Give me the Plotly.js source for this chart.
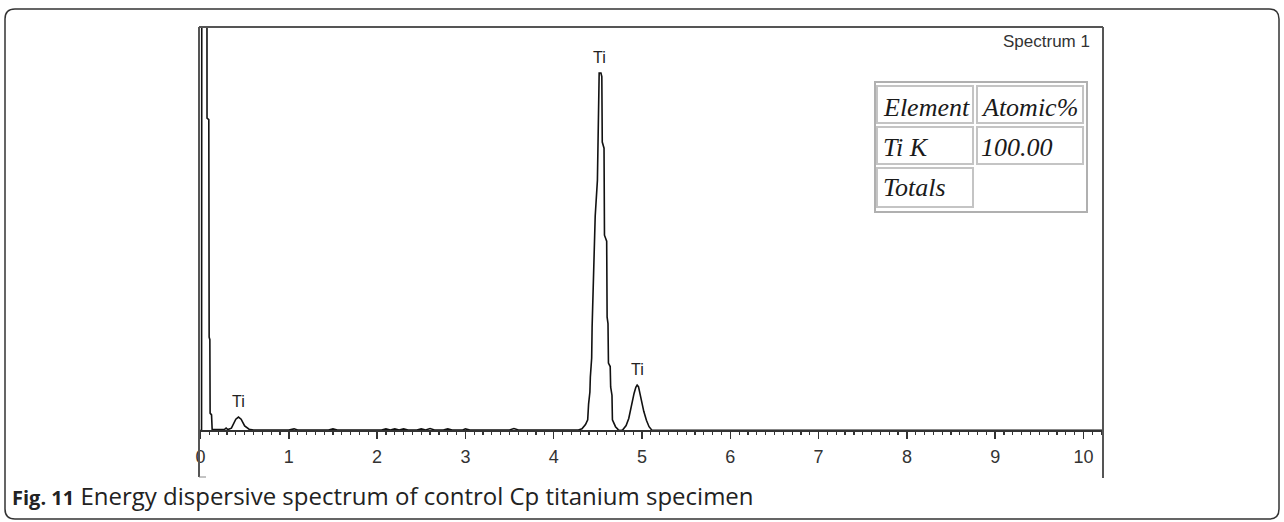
<!DOCTYPE html>
<html>
<head>
<meta charset="utf-8">
<script src="https://cdn.plot.ly/plotly-3.0.1.min.js"></script>
<style>
html,body{margin:0;padding:0;background:#fff;}
#chart{width:1284px;height:522px;}
</style>
</head>
<body>
<div id="chart"></div>
<script>
// Spectrum vertices (energy in keV, counts)
const energyKeV = [
  0.000, 0.012, 0.017, 0.070, 0.074, 0.094, 0.098, 0.106, 0.109, 0.125, 0.132,
  0.20, 0.27, 0.29, 0.31, 0.35, 0.38, 0.40, 0.43, 0.46, 0.50, 0.55, 0.60,
  1.00, 1.06, 1.10, 1.45, 1.50, 1.55, 2.05, 2.10, 2.15, 2.20, 2.25, 2.30, 2.35,
  2.45, 2.50, 2.55, 2.60, 2.65, 2.75, 2.80, 2.85, 2.97, 3.00, 3.05, 3.50, 3.55, 3.60,
  4.28, 4.32, 4.36, 4.385, 4.395, 4.41, 4.415, 4.43, 4.435, 4.445, 4.45, 4.465,
  4.47, 4.495, 4.50, 4.515, 4.535, 4.545, 4.550, 4.570, 4.575, 4.600, 4.605, 4.615,
  4.620, 4.640, 4.645, 4.660, 4.665, 4.700, 4.730, 4.750, 4.780,
  4.820, 4.850, 4.870, 4.890, 4.910, 4.930, 4.945, 4.960, 4.980, 5.000, 5.020,
  5.050, 5.080, 5.110, 5.200, 10.22
];
const counts = [
  3, 3, 2500, 2500, 874, 870, 262, 255, 50, 45, 4,
  3, 4, 8, 4, 8, 22, 33, 39, 33, 14, 5, 3,
  3, 6, 3, 3, 6, 3, 3, 6, 3, 6, 3, 6, 3,
  3, 6, 3, 7, 3, 3, 6, 3, 3, 6, 3, 3, 7, 3,
  3, 6, 18, 31, 75, 109, 150, 204, 290, 380, 470, 581,
  600, 700, 818, 1000, 1000, 990, 807, 790, 547, 530, 318, 300,
  190, 180, 123, 100, 31, 12, 4, 1, 3,
  15, 35, 59, 85, 105, 122, 128, 124, 100, 72, 55,
  30, 12, 3, 2, 2
];

// Peak labels
const peakLabels = ['Ti', 'Ti', 'Ti'];
const peakEnergy = [0.43, 4.52, 4.945];
const peakCounts = [39, 1000, 128];

// X tick labels
const tickValues = [0,1,2,3,4,5,6,7,8,9,10];
const tickLabels = ['0','1','2','3','4','5','6','7','8','9','10'];

// Quantification table
const tableHeader = ['Element', 'Atomic%'];
const tableRows = [['Ti K', '100.00'], ['Totals', '']];

const captionLabel = 'Fig. 11';
const captionText = 'Energy dispersive spectrum of control Cp titanium specimen';
const spectrumName = 'Spectrum 1';

// ---- geometry helpers (pixel -> paper) ----
const L = 200, R = 1103, T = 27, B = 478;
const W = R - L, H = B - T;
const px = x => (x - L) / W;
const py = y => (B - y) / H;

const trace = {
  x: energyKeV, y: counts, type: 'scatter', mode: 'lines',
  line: {color: '#111', width: 1.6},
  hoverinfo: 'skip', showlegend: false, cliponaxis: true
};

const annotations = [];
peakLabels.forEach((t, i) => annotations.push({
  x: peakEnergy[i], y: peakCounts[i], xref: 'x', yref: 'y',
  text: t, showarrow: false, yanchor: 'middle', yshift: 16,
  font: {family: 'Liberation Sans, Arial, sans-serif', size: 16, color: '#222'}
}));
annotations.push({
  x: px(1092), y: py(42), xref: 'paper', yref: 'paper', xanchor: 'right', yanchor: 'middle',
  text: spectrumName, showarrow: false,
  font: {family: 'Liberation Sans, Arial, sans-serif', size: 17, color: '#333'}
});
annotations.push({
  x: px(11), y: py(496), xref: 'paper', yref: 'paper', xanchor: 'left', yanchor: 'middle',
  text: '<span style="font-size:20px"><b>' + captionLabel + '</b></span> ' + captionText,
  showarrow: false, borderpad: 0,
  font: {family: 'Open Sans, sans-serif', size: 24, color: '#222'}
});

// Table text
const colX = [882, 980];
const rowY = [107, 147, 188];
const tableCells = [tableHeader].concat(tableRows);
tableCells.forEach((row, r) => row.forEach((txt, c) => {
  if (!txt) return;
  annotations.push({
    x: px(colX[c]), y: py(rowY[r]), xref: 'paper', yref: 'paper',
    xanchor: 'left', yanchor: 'middle', showarrow: false, borderpad: 0,
    text: '<i>' + txt + '</i>',
    font: {family: 'Liberation Serif, Times New Roman, serif', size: 26, color: '#1a1a1a'}
  });
}));

const shapes = [];
// Outer rounded figure border
(function(){
  const x0 = px(5), x1 = px(1279), y0 = py(9), y1 = py(519);
  const rx = 10 / W, ry = 10 / H;
  const d = `M ${x0+rx},${y0} L ${x1-rx},${y0} Q ${x1},${y0} ${x1},${y0-ry} ` +
            `L ${x1},${y1+ry} Q ${x1},${y1} ${x1-rx},${y1} L ${x0+rx},${y1} ` +
            `Q ${x0},${y1} ${x0},${y1+ry} L ${x0},${y0-ry} Q ${x0},${y0} ${x0+rx},${y0} Z`;
  shapes.push({type: 'path', path: d, xref: 'paper', yref: 'paper',
    line: {color: '#333', width: 1.5}, fillcolor: 'rgba(0,0,0,0)', layer: 'below'});
})();
// Plot frame (left, top, right)
const frameLine = {color: '#555', width: 2};
shapes.push({type: 'line', xref: 'paper', yref: 'paper', x0: px(199), x1: px(199), y0: py(477), y1: 1, line: frameLine});
shapes.push({type: 'line', xref: 'paper', yref: 'paper', x0: px(199), x1: 1, y0: 1, y1: 1, line: frameLine});
shapes.push({type: 'line', xref: 'paper', yref: 'paper', x0: 1, x1: 1, y0: 0, y1: 1, line: frameLine});
shapes.push({type: 'line', xref: 'paper', yref: 'paper', x0: px(199), x1: px(206), y0: py(477), y1: py(477), line: {color: '#888', width: 1}});
// Table borders
const cellLine = {color: '#c4c4c4', width: 2};
shapes.push({type: 'rect', xref: 'paper', yref: 'paper', x0: px(875), x1: px(1087), y0: py(82), y1: py(212), line: {color: '#b0b0b0', width: 2}});
const cells = [
  [877, 973, 86, 123], [977, 1083, 86, 123],
  [877, 973, 127, 164], [977, 1083, 127, 164],
  [877, 973, 168, 207]
];
cells.forEach(c => shapes.push({type: 'rect', xref: 'paper', yref: 'paper',
  x0: px(c[0]), x1: px(c[1]), y0: py(c[2]), y1: py(c[3]), line: cellLine}));

const layout = {
  width: 1284, height: 522,
  margin: {l: L, r: 1284 - R, t: T, b: 522 - B, pad: 0},
  paper_bgcolor: '#fff', plot_bgcolor: '#fff',
  showlegend: false,
  xaxis: {
    range: [(L - 200.5) / 88.3, (R - 200.5) / 88.3],
    anchor: 'free', position: (B - 431) / H,
    showline: true, linecolor: '#333', linewidth: 2,
    showgrid: false, zeroline: false,
    ticks: 'outside', ticklen: 7, tickwidth: 1.5, tickcolor: '#333',
    tickmode: 'array', tickvals: tickValues, ticktext: tickLabels,
    tickfont: {family: 'Liberation Sans, Arial, sans-serif', size: 18, color: '#333'},
    ticklabelstandoff: 2,
    minor: {ticks: 'outside', ticklen: 3, tickwidth: 1.2, tickcolor: '#333', dtick: 0.1, tick0: 0, showgrid: false},
    fixedrange: true
  },
  yaxis: {
    range: [-(B - 431) / 358 * 1000, (431 - T) / 358 * 1000],
    visible: false, showgrid: false, zeroline: false, fixedrange: true
  },
  annotations: annotations,
  shapes: shapes
};

Plotly.newPlot('chart', [trace], layout, {displayModeBar: false, staticPlot: true});
</script>
</body>
</html>
